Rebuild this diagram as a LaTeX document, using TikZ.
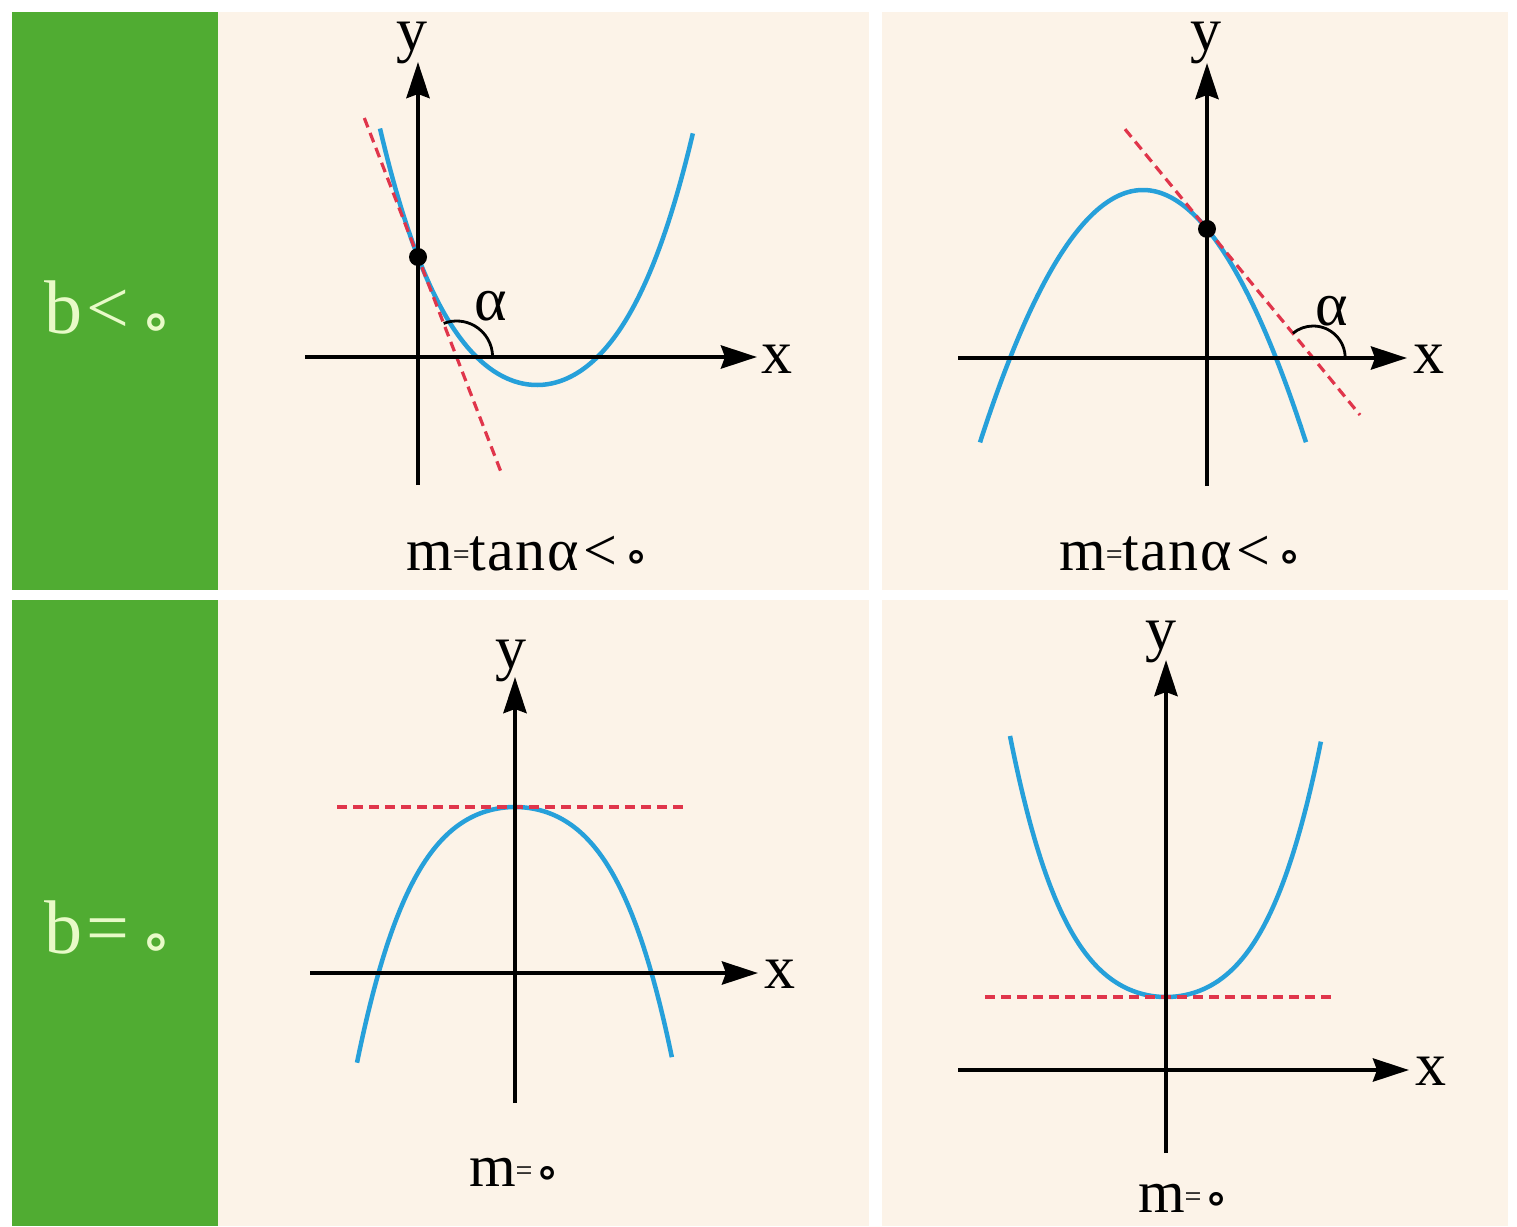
\documentclass[tikz,border=0pt]{standalone}
\usepackage{fontspec}
\setmainfont{Liberation Serif}
\newfontfamily\djv{DejaVu Sans}
\usetikzlibrary{arrows.meta}
\definecolor{grn}{HTML}{50AC32}
\definecolor{beige}{HTML}{FCF3E8}
\definecolor{curvec}{HTML}{26A0DA}
\definecolor{tangc}{HTML}{E0354B}
\definecolor{pale}{HTML}{E8FAC8}
\newcommand{\capring}{{\djv\bfseries\fontsize{42}{42}\selectfont\raisebox{0pt}{∘}}}
\newcommand{\smalleq}{\raisebox{6pt}{\fontsize{30}{30}\selectfont=}}
\newcommand{\bigring}{{\djv\bfseries\fontsize{54}{54}\selectfont\raisebox{-6pt}{∘}}}
\begin{document}
\begin{tikzpicture}[x=1pt,y=-1pt,
  axisarrow/.style={line width=4.4pt,-{Stealth[length=36pt,width=23pt,inset=4pt]}},
  curvestyle/.style={curvec,line width=4.5pt},
  tanline/.style={tangc,line width=3.2pt,dash pattern=on 10pt off 6pt},
  anglearc/.style={line width=2.8pt},
  axlabel/.style={font=\fontsize{62}{62}\selectfont,inner sep=0pt,anchor=base},
  caption/.style={font=\fontsize{60}{60}\selectfont,inner sep=0pt,anchor=base},
  sidelabel/.style={text=pale,font=\fontsize{76}{76}\selectfont,inner sep=0pt,anchor=base west},
  dot/.style={fill=black}
]
% background and panels
\fill[white] (0,0) rectangle (1517,1226);
\useasboundingbox (0,0) rectangle (1517,1226);
\fill[grn] (12,12) rectangle (218,590);
\fill[grn] (12,600) rectangle (218,1226);
\fill[beige] (218,12) rectangle (869,590);
\fill[beige] (218,600) rectangle (869,1226);
\fill[beige] (882,12) rectangle (1508,590);
\fill[beige] (882,600) rectangle (1508,1226);

% side labels
\node[sidelabel] (lab1) at (44,333) {b\hspace{4pt}<\hspace{10pt}\bigring};
\node[sidelabel] (lab2) at (44,953) {b\hspace{4pt}=\hspace{10pt}\bigring};

% ---------- Panel 1 ----------
\coordinate (Y1b) at (418,485); \coordinate (Y1t) at (418,62);
\coordinate (X1l) at (305,357); \coordinate (X1r) at (757,357);
\draw[curvestyle] plot[domain=-1.57:1.56,samples=120,smooth] ({537+100*\x},{385-72*\x*\x-13*\x*\x*\x*\x});
\coordinate (T1a) at (364.3,118); \coordinate (T1b) at (501,472);
\draw[tanline] (T1a) -- (T1b);
\draw[axisarrow] (X1l) -- (X1r);
\draw[axisarrow] (Y1b) -- (Y1t);
\coordinate (C1) at (456.6,357);
\draw[anglearc] ([shift={(36pt,0pt)}]C1) arc[start angle=0,end angle=111.1,radius=36pt];
\node[dot,circle,inner sep=0pt,minimum size=18pt] (D1) at (418,257) {};
\node[axlabel] (y1) at (412,50) {y};
\node[axlabel] (x1) at (777,373) {x};
\node[axlabel] (a1) at (491,320) {α};
\node[caption] (c1) at (528,570) {m\smalleq t\hspace{1pt}a\hspace{1pt}n\hspace{2pt}α\hspace{5pt}<\hspace{6pt}\capring};

% ---------- Panel 2 ----------
\coordinate (Y2b) at (1207,486); \coordinate (Y2t) at (1207,63);
\coordinate (X2l) at (958,358); \coordinate (X2r) at (1407,358);
\draw[curvestyle] plot[domain=-1.63:1.63,samples=120,smooth] ({1143+100*\x},{190+95*\x*\x});
\coordinate (T2a) at (1125,129.2); \coordinate (T2b) at (1360,415);
\draw[tanline] (T2a) -- (T2b);
\draw[axisarrow] (X2l) -- (X2r);
\draw[axisarrow] (Y2b) -- (Y2t);
\coordinate (C2) at (1313.2,358);
\draw[anglearc] ([shift={(32pt,0pt)}]C2) arc[start angle=0,end angle=129.4,radius=32pt];
\node[dot,circle,inner sep=0pt,minimum size=18pt] (D2) at (1207,228.9) {};
\node[axlabel] (y2) at (1206,50) {y};
\node[axlabel] (x2) at (1429,373) {x};
\node[axlabel] (a2) at (1332,325) {α};
\node[caption] (c2) at (1181,570) {m\smalleq t\hspace{1pt}a\hspace{1pt}n\hspace{2pt}α\hspace{5pt}<\hspace{6pt}\capring};

% ---------- Panel 3 ----------
\coordinate (Y3b) at (515,1103); \coordinate (Y3t) at (515,677);
\coordinate (X3l) at (310,973); \coordinate (X3r) at (758,973);
\coordinate (H3a) at (337,807); \coordinate (H3b) at (686,807);
\draw[curvestyle] plot[domain=-1.58:1.57,samples=120,smooth] ({515+100*\x},{807+50*\x*\x+21*\x*\x*\x*\x});
\draw[tanline] (H3a) -- (H3b);
\draw[axisarrow] (X3l) -- (X3r);
\draw[axisarrow] (Y3b) -- (Y3t);
\node[axlabel] (y3) at (511,668) {y};
\node[axlabel] (x3) at (780,988) {x};
\node[caption] (c3) at (515,1186) {m\smalleq\hspace{2pt}\capring};

% ---------- Panel 4 ----------
\coordinate (Y4b) at (1166,1153); \coordinate (Y4t) at (1166,660);
\coordinate (X4l) at (958,1070); \coordinate (X4r) at (1409,1070);
\coordinate (H4a) at (985,997); \coordinate (H4b) at (1337,997);
\draw[curvestyle] plot[domain=-1.56:1.55,samples=120,smooth] ({1166+100*\x},{997-53*\x*\x-22.3*\x*\x*\x*\x});
\draw[tanline] (H4a) -- (H4b);
\draw[axisarrow] (X4l) -- (X4r);
\draw[axisarrow] (Y4b) -- (Y4t);
\node[axlabel] (y4) at (1161,649) {y};
\node[axlabel] (x4) at (1431,1085) {x};
\node[caption] (c4) at (1184,1212) {m\smalleq\hspace{2pt}\capring};
\end{tikzpicture}
\end{document}
